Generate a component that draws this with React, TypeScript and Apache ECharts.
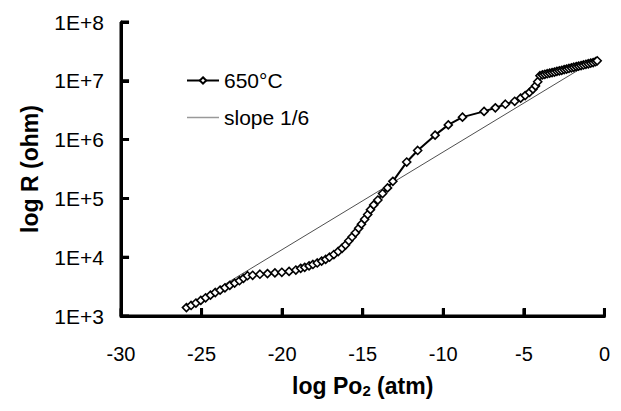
import React, { useEffect, useRef } from "react";
import * as echarts from "echarts";

// log Po2 (atm) values of the measured 650°C curve
const po2: number[] = [
  -25.94, -25.65, -25.35, -25.05, -24.75, -24.45, -24.15, -23.85, -23.55, -23.25, -22.95, -22.65, -22.4, -22.15,
  -21.83, -21.38, -20.91, -20.45, -20.02, -19.57, -19.15,
  -18.85, -18.6, -18.33, -18.09, -17.82, -17.55, -17.3, -17.06, -16.79, -16.52, -16.28, -16.07, -15.86, -15.66,
  -15.45, -15.25, -15.08, -14.88, -14.69, -14.52, -14.32, -14.06, -13.77, -13.46, -13.13,
  -12.27, -11.59, -10.51, -9.69, -8.81, -7.47, -6.77, -6.15, -5.57, -5.2, -4.92, -4.65, -4.44, -4.28, -4.14,
  -4.0, -3.85, -3.7, -3.55, -3.4, -3.25, -3.1, -2.95, -2.8, -2.65, -2.5, -2.35, -2.2, -2.05, -1.9, -1.75, -1.6,
  -1.45, -1.3, -1.15, -1.0, -0.85, -0.7, -0.55, -0.45,
];
// resistance (ohm) of the measured 650°C curve
const resistance: number[] = [
  1390, 1510, 1660, 1840, 2040, 2260, 2510, 2750, 3020, 3310, 3630, 3980, 4370, 4840,
  4930, 5140, 5260, 5400, 5540, 5740, 6050,
  6470, 6730, 7110, 7530, 7980, 8590, 9160, 10000, 11100, 12500, 14200, 16100, 19000, 22100,
  26000, 31000, 36500, 44100, 53200, 64300, 77600, 93800, 121000, 151000, 195000,
  415000, 653000, 1190000, 1780000, 2410000, 3020000, 3470000, 4000000, 4480000, 5070000, 5610000, 6360000, 7200000, 8180000, 9640000,
  12200000, 12600000, 12900000, 13200000, 13500000, 13800000, 14100000, 14500000, 14800000, 15100000, 15500000, 15800000, 16200000, 16600000, 17000000, 17400000, 17800000,
  18200000, 18600000, 19100000, 19500000, 20000000, 20400000, 21100000, 21900000,
];
// reference line of slope 1/6 (end points)
const slopeX: number[] = [-25.94, -0.6];
const slopeR: number[] = [1390, 22500000];

const xTicks: number[] = [-30, -25, -20, -15, -10, -5, 0];
const yTicks: number[] = [1e3, 1e4, 1e5, 1e6, 1e7, 1e8];
const yTickLabels: string[] = ["1E+3", "1E+4", "1E+5", "1E+6", "1E+7", "1E+8"];

const seriesNames = ["650°C", "slope 1/6"];

export default function App() {
  const ref = useRef<HTMLDivElement>(null);
  useEffect(() => {
    if (!ref.current) return;
    const chart = echarts.init(ref.current, null, { renderer: "svg" });
    const font = "'Liberation Sans', Arial, sans-serif";
    const xMin = xTicks[0];
    const xMax = xTicks[xTicks.length - 1];
    const yMin = yTicks[0];
    const yMax = yTicks[yTicks.length - 1];
    const tickUpFactor = Math.pow(10, 0.13);
    const tickRight = 0.5;
    const frameSeries = (data: number[][]) => ({
      type: "line",
      data,
      symbol: "none",
      silent: true,
      clip: false,
      z: 5,
      lineStyle: { color: "#000", width: 3 },
    });
    const axisStyle = { color: "#000", width: 3 };
    chart.setOption({
      animation: false,
      backgroundColor: "#ffffff",
      grid: { left: 113, right: 6, top: 14, bottom: 76, containLabel: false },
      legend: {
        left: 173,
        top: 57,
        orient: "vertical",
        itemWidth: 32,
        itemHeight: 8,
        itemGap: 16,
        textStyle: { fontFamily: font, fontSize: 21, color: "#000" },
        data: [
          { name: seriesNames[0] },
          { name: seriesNames[1], icon: "path://M0,0H32V1.5H0Z" },
        ],
      },
      xAxis: {
        type: "value",
        position: "bottom",
        min: xMin,
        max: xMax,
        interval: 5,
        name: "log Po{sub|2} (atm)",
        nameLocation: "middle",
        nameGap: 57,
        nameTextStyle: {
          fontFamily: font,
          fontSize: 23,
          fontWeight: "bold",
          color: "#000",
          rich: {
            sub: { fontFamily: font, fontSize: 15, fontWeight: "bold", color: "#000", verticalAlign: "bottom", padding: [10, 0, 0, 0] },
          },
        },
        axisLine: { show: true, onZero: false, lineStyle: axisStyle },
        axisTick: { show: true, inside: true, length: 8, lineStyle: axisStyle },
        axisLabel: { fontFamily: font, fontSize: 20, color: "#000", margin: 28 },
        splitLine: { show: false },
      },
      yAxis: {
        type: "log",
        position: "left",
        logBase: 10,
        min: yMin,
        max: yMax,
        name: "log R (ohm)",
        nameLocation: "middle",
        nameGap: 80,
        nameTextStyle: { fontFamily: font, fontSize: 23, fontWeight: "bold", color: "#000" },
        axisLine: { show: true, onZero: false, lineStyle: axisStyle },
        axisTick: { show: true, inside: true, length: 8, lineStyle: axisStyle },
        axisLabel: {
          fontFamily: font,
          fontSize: 21,
          color: "#000",
          margin: 17,
          formatter: (v: number) => yTickLabels[yTicks.findIndex((t) => Math.abs(Math.log10(t) - Math.log10(v)) < 1e-6)] ?? "",
        },
        splitLine: { show: false },
        minorTick: { show: false },
      },
      series: [
        {
          name: seriesNames[1],
          type: "line",
          data: slopeX.map((x, i) => [x, slopeR[i]]),
          symbol: "none",
          lineStyle: { color: "#222", width: 0.8 },
          itemStyle: { color: "#999" },
          z: 1,
        },
        {
          name: seriesNames[0],
          type: "line",
          data: po2.map((x, i) => [x, resistance[i]]),
          symbol: "diamond",
          symbolSize: 8,
          showAllSymbol: true,
          lineStyle: { color: "#000", width: 2 },
          itemStyle: { color: "#fff", borderColor: "#000", borderWidth: 1.6 },
          z: 2,
        },
        frameSeries([[xMax, yMin], [xMin, yMin], [xMin, yMax]]),
        ...xTicks.map((v) => frameSeries([[v, yMin], [v, yMin * tickUpFactor]])),
        ...yTicks.map((v) => frameSeries([[xMin, v], [xMin + tickRight, v]])),
      ],
    });
    return () => chart.dispose();
  }, []);
  return <div ref={ref} style={{ width: 605, height: 395 }} />;
}
